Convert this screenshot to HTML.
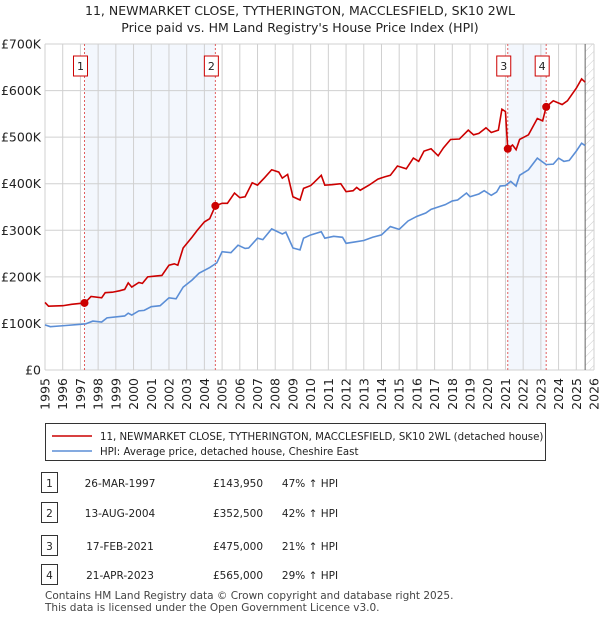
<!DOCTYPE html>
<html><head><meta charset="utf-8">
<style>
body{margin:0;background:#fff;font-family:"Liberation Sans","DejaVu Sans",sans-serif;}
#wrap{position:relative;width:600px;height:620px;overflow:hidden;}
svg text{font-family:"DejaVu Sans","Liberation Sans",sans-serif;}
</style></head>
<body>
<div id="wrap">
<svg id="chart" width="600" height="620">
<text x="300" y="15" text-anchor="middle" font-size="12.5" fill="#222">11, NEWMARKET CLOSE, TYTHERINGTON, MACCLESFIELD, SK10 2WL</text>
<text x="300" y="32" text-anchor="middle" font-size="12.5" fill="#222">Price paid vs. HM Land Registry's House Price Index (HPI)</text>
</svg>
</div>
<script>
const yearTicks=[1995,1996,1997,1998,1999,2000,2001,2002,2003,2004,2005,2006,2007,2008,2009,2010,2011,2012,2013,2014,2015,2016,2017,2018,2019,2020,2021,2022,2023,2024,2025,2026];
const valueTicks=[0,100,200,300,400,500,600,700];
const valueTickLabels=["£0","£100K","£200K","£300K","£400K","£500K","£600K","£700K"];
const saleLabels=["1","2","3","4"];
const saleYears=[1997.23,2004.62,2021.13,2023.30];
const salePrices=[143.95,352.5,475,565];
const saleDates=["26-MAR-1997","13-AUG-2004","17-FEB-2021","21-APR-2023"];
const salePriceText=["£143,950","£352,500","£475,000","£565,000"];
const saleHpiText=["47% ↑ HPI","42% ↑ HPI","21% ↑ HPI","29% ↑ HPI"];
const redYears=[1995,1995.2,1996,1996.5,1997.23,1997.4,1997.6,1998.2,1998.4,1998.8,1999.2,1999.5,1999.7,1999.9,2000.3,2000.5,2000.8,2001.3,2001.6,2002,2002.3,2002.5,2002.8,2003.3,2003.6,2004,2004.3,2004.62,2005,2005.3,2005.7,2006,2006.3,2006.7,2007,2007.4,2007.8,2008.2,2008.4,2008.7,2009,2009.4,2009.6,2010,2010.2,2010.6,2010.8,2011.2,2011.7,2012,2012.4,2012.6,2012.8,2013.3,2013.8,2014.2,2014.5,2014.9,2015.4,2015.8,2016.1,2016.4,2016.8,2017.2,2017.5,2017.9,2018.4,2018.9,2019.2,2019.5,2019.9,2020.2,2020.6,2020.8,2021.0,2021.13,2021.4,2021.6,2021.8,2022.3,2022.8,2023.1,2023.2,2023.3,2023.7,2024.2,2024.5,2025,2025.3,2025.5];
const redValues=[145,137,138,141,143.95,150,158,155,166,167,170,173,187,178,188,186,200,202,203,225,228,225,262,285,300,318,325,352.5,358,358,380,370,372,402,397,413,430,425,412,420,372,365,390,396,403,418,397,398,400,383,385,392,386,397,410,415,418,438,432,455,448,470,475,460,477,495,496,515,505,508,520,510,515,560,555,475,483,473,495,505,540,535,550,565,578,570,578,605,625,618];
const blueYears=[1995,1995.3,1996,1997,1997.3,1997.7,1998.2,1998.5,1999.5,1999.7,1999.9,2000.3,2000.6,2001,2001.5,2002,2002.4,2002.8,2003.3,2003.7,2004.3,2004.7,2005,2005.5,2005.9,2006.3,2006.5,2007,2007.3,2007.8,2008.4,2008.6,2009,2009.4,2009.6,2010,2010.6,2010.8,2011.3,2011.8,2012,2012.5,2013,2013.5,2014,2014.5,2015,2015.5,2016,2016.5,2016.8,2017.2,2017.6,2018,2018.3,2018.8,2019,2019.5,2019.8,2020.2,2020.5,2020.7,2021,2021.3,2021.6,2021.8,2022.3,2022.8,2023.3,2023.7,2024,2024.3,2024.6,2025,2025.3,2025.5];
const blueValues=[97,93,95,98,99,105,103,112,116,122,118,127,128,136,138,155,153,178,193,208,220,230,254,252,268,261,262,283,280,303,292,296,262,258,283,290,297,283,287,285,272,275,278,285,290,308,302,320,330,337,345,350,355,363,365,380,372,378,385,375,382,395,396,405,395,418,430,455,441,442,455,448,450,470,487,482];

const NS="http://www.w3.org/2000/svg";
const svg=document.getElementById('chart');
const L=45,R=594,T=44,B=370;
const x=y=>L+(y-1995)*(R-L)/31;
const yv=v=>B-v*(B-T)/700;
function mk(tag,attrs,parent){const e=document.createElementNS(NS,tag);for(const k in attrs)e.setAttribute(k,attrs[k]);(parent||svg).appendChild(e);return e;}

const s1=mk('rect',{x:x(saleYears[0]),y:T,width:x(saleYears[1])-x(saleYears[0]),height:B-T,fill:'#eef3fc',opacity:0.7});


const s2=mk('rect',{x:x(saleYears[2]),y:T,width:x(saleYears[3])-x(saleYears[2]),height:B-T,fill:'#eef3fc',opacity:0.7});


const defs=mk('defs',{});
const pat=mk('pattern',{id:'hatch',width:6,height:6,patternUnits:'userSpaceOnUse',patternTransform:'rotate(45)'},defs);
mk('line',{x1:0,y1:0,x2:0,y2:6,stroke:'#ccc','stroke-width':1},pat);
const hx=x(2025.5);
const hr=mk('rect',{x:hx,y:T,width:R-hx,height:B-T,fill:'url(#hatch)'});



yearTicks.forEach((yr,i)=>{
  const g=mk('line',{x1:x(yr),x2:x(yr),y1:T,y2:B,stroke:'#d0d0d0','stroke-width':1});
  
  
  const t=mk('text',{x:0,y:0,transform:`translate(${x(yr)+4.5},${B+8}) rotate(-90)`,'text-anchor':'end','font-size':12.5,fill:'#222'});
  t.textContent=yr;
  
  
});
valueTicks.forEach((v,i)=>{
  const g=mk('line',{x1:L,x2:R,y1:yv(v),y2:yv(v),stroke:'#d0d0d0','stroke-width':1});
  
  
  const t=mk('text',{x:L-4,y:yv(v)+4.5,'text-anchor':'end','font-size':12.5,fill:'#222'});
  t.textContent=valueTickLabels[i];
  
  
});
const vl=mk('line',{x1:hx,x2:hx,y1:T,y2:B,stroke:'#666','stroke-width':1});



saleYears.forEach((sy,i)=>{
  const d=mk('line',{x1:x(sy),x2:x(sy),y1:T,y2:B,stroke:'#e06060','stroke-width':1,'stroke-dasharray':'2,2'});
  
  
  const b=mk('rect',{x:x(sy)-11,y:56,width:14,height:20,fill:'#fff',stroke:'#c00','stroke-width':1});
  
  
  const t=mk('text',{x:x(sy)-4,y:70,'text-anchor':'middle','font-size':11,fill:'#222'});
  t.textContent=saleLabels[i];
  
  
});

const bp=mk('polyline',{points:blueYears.map((yr,i)=>x(yr)+','+yv(blueValues[i])).join(' '),fill:'none',stroke:'#5b8ed6','stroke-width':1.6});


const rp=mk('polyline',{points:redYears.map((yr,i)=>x(yr)+','+yv(redValues[i])).join(' '),fill:'none',stroke:'#cc0000','stroke-width':1.6});


saleYears.forEach((sy,i)=>{
  const c=mk('circle',{cx:x(sy),cy:yv(salePrices[i]),r:4,fill:'#cc0000'});
  
  
});

const lg=mk('rect',{x:45.5,y:423.5,width:500,height:37,fill:'#fff',stroke:'#333','stroke-width':1});


const l1=mk('line',{x1:52,x2:92,y1:436,y2:436,stroke:'#cc0000','stroke-width':1.5});


const lt1=mk('text',{x:100,y:440,'font-size':10.2,fill:'#222'});
lt1.textContent='11, NEWMARKET CLOSE, TYTHERINGTON, MACCLESFIELD, SK10 2WL (detached house)';


const l2=mk('line',{x1:52,x2:92,y1:451,y2:451,stroke:'#5b8ed6','stroke-width':1.5});


const lt2=mk('text',{x:100,y:455,'font-size':10.2,fill:'#222'});
lt2.textContent='HPI: Average price, detached house, Cheshire East';



const rowY=[483,513,546,575];
saleLabels.forEach((lab,i)=>{
  const b=mk('rect',{x:41.5,y:rowY[i]-10.5,width:16,height:20,fill:'#fff',stroke:'#333','stroke-width':1});
  
  
  const cells=[[49.5,lab,'middle'],[120,saleDates[i],'middle'],[238,salePriceText[i],'middle'],[310,saleHpiText[i],'middle']];
  const names=['table-row-number','table-row-date','table-row-price','table-row-hpi'];
  cells.forEach((c,j)=>{
    const t=mk('text',{x:c[0],y:rowY[i]+4,'text-anchor':c[2],'font-size':10.5,fill:'#222'});
    t.textContent=c[1];
    
    
  });
});
const f1=mk('text',{x:45,y:599,'font-size':10.5,fill:'#444'});
f1.textContent='Contains HM Land Registry data © Crown copyright and database right 2025.';


const f2=mk('text',{x:45,y:611,'font-size':10.5,fill:'#444'});
f2.textContent='This data is licensed under the Open Government Licence v3.0.';


</script>
</body></html>
